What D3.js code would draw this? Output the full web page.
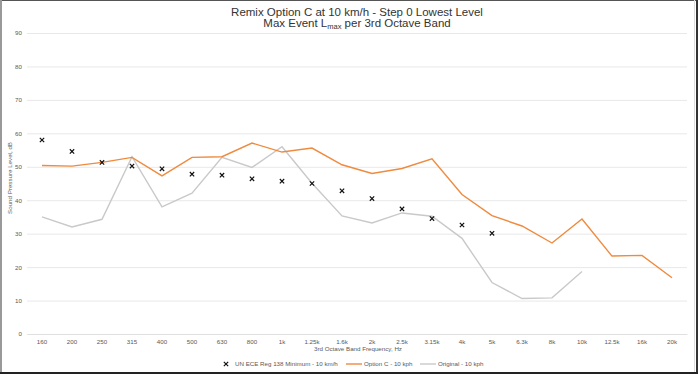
<!DOCTYPE html>
<html>
<head>
<meta charset="utf-8">
<script src="https://cdn.jsdelivr.net/npm/d3@7"></script>
<style>
  body { margin: 0; background: #fff; }
  svg { display: block; font-family: "Liberation Sans", Arial, sans-serif; }
</style>
</head>
<body>
<div id="chart"></div>
<script>
// 3rd octave bands
var bands = ["160", "200", "250", "315", "400", "500", "630", "800", "1k", "1.25k", "1.6k",
    "2k", "2.5k", "3.15k", "4k", "5k", "6.3k", "8k", "10k", "12.5k", "16k", "20k"];

// UN ECE Reg 138 minimum (markers only, up to 5k)
var uneceValues = [58.0, 54.6, 51.3, 50.2, 49.4, 47.8, 47.5, 46.4, 45.7, 45.0, 42.8,
    40.5, 37.4, 34.5, 32.6, 30.1, null, null, null, null, null, null];

var optionCValues = [50.4, 50.2, 51.3, 52.8, 47.3, 52.8, 53.0, 57.1, 54.4, 55.6, 50.6,
    48.0, 49.5, 52.4, 41.7, 35.4, 32.3, 27.2, 34.4, 23.3, 23.5, 16.8];

var originalValues = [35.0, 32.0, 34.3, 53.0, 38.0, 42.1, 52.8, 49.8, 56.0, 45.1, 35.3,
    33.2, 36.2, 35.2, 28.6, 15.4, 10.6, 10.8, 18.7, null, null, null];

var yTicks = [0, 10, 20, 30, 40, 50, 60, 70, 80, 90];

var W = 698, H = 374;
var margin = {top: 33, right: 11, bottom: 40, left: 27};
var width = W - margin.left - margin.right;
var height = H - margin.top - margin.bottom;
var small = 6.2;

var svg = d3.select("#chart").append("svg")
    .attr("width", W)
    .attr("height", H);

svg.append("rect").attr("width", W).attr("height", H).attr("fill", "#fff");

// frame around the picture
svg.append("line").attr("x1", 0).attr("x2", W).attr("y1", 0.5).attr("y2", 0.5)
    .attr("stroke", "#555").attr("stroke-width", 1);
svg.append("line").attr("x1", 1).attr("x2", 1).attr("y1", 0).attr("y2", H)
    .attr("stroke", "#999").attr("stroke-width", 2);
svg.append("line").attr("x1", 694.5).attr("x2", 694.5).attr("y1", 0).attr("y2", 372)
    .attr("stroke", "#ddd").attr("stroke-width", 1);
svg.append("line").attr("x1", 697).attr("x2", 697).attr("y1", 0).attr("y2", H)
    .attr("stroke", "#333").attr("stroke-width", 2);
svg.append("line").attr("x1", 0).attr("x2", W).attr("y1", 373).attr("y2", 373)
    .attr("stroke", "#222").attr("stroke-width", 2);

var g = svg.append("g")
    .attr("transform", "translate(" + margin.left + "," + margin.top + ")");

var x = d3.scaleBand().domain(bands).range([0, width]);
var y = d3.scaleLinear().domain([0, 90]).range([height, 0]);

// gridlines + y labels
var yAxis = d3.axisLeft(y).tickValues(yTicks).tickSize(-width).tickPadding(5);
g.append("g").call(yAxis)
    .call(function(a) {
        a.select(".domain").remove();
        a.selectAll("line").attr("stroke", "#e8e8e8").attr("stroke-width", 1);
        a.selectAll("text").attr("font-size", small).attr("fill", "#595959");
    });

// x axis labels
var xAxis = d3.axisBottom(x).tickSize(0).tickPadding(6);
g.append("g").attr("transform", "translate(0," + height + ")").call(xAxis)
    .call(function(a) {
        a.select(".domain").attr("stroke", "#e0e0e0");
        a.selectAll("text").attr("font-size", small).attr("fill", "#595959");
    });

var cx = function(i) { return x(bands[i]) + x.bandwidth() / 2; };

var line = d3.line()
    .defined(function(d) { return d != null; })
    .x(function(d, i) { return cx(i); })
    .y(function(d) { return y(d); });

g.append("path").datum(originalValues)
    .attr("d", line)
    .attr("fill", "none")
    .attr("stroke", "#c9c9c9")
    .attr("stroke-width", 1.4);

g.append("path").datum(optionCValues)
    .attr("d", line)
    .attr("fill", "none")
    .attr("stroke", "#ef8a3e")
    .attr("stroke-width", 1.4);

var cross = d3.symbol().type(d3.symbolX).size(14);
g.selectAll(".unece")
    .data(uneceValues.map(function(v, i) { return {v: v, i: i}; })
        .filter(function(d) { return d.v != null; }))
    .enter().append("path")
    .attr("class", "unece")
    .attr("d", cross)
    .attr("transform", function(d) { return "translate(" + cx(d.i) + "," + y(d.v) + ")"; })
    .attr("stroke", "#111")
    .attr("stroke-width", 1.2)
    .attr("fill", "none");

// titles
var titleX = margin.left + width / 2;
svg.append("text")
    .attr("x", titleX).attr("y", 16)
    .attr("text-anchor", "middle")
    .attr("font-size", 11.5)
    .attr("fill", "#333")
    .text("Remix Option C at 10 km/h - Step 0 Lowest Level");

var t2 = svg.append("text")
    .attr("x", titleX).attr("y", 27)
    .attr("text-anchor", "middle")
    .attr("font-size", 11.5)
    .attr("fill", "#333");
t2.append("tspan").text("Max Event L");
t2.append("tspan").attr("font-size", 7.5).attr("dy", 2).text("max");
t2.append("tspan").attr("dy", -2).text(" per 3rd Octave Band");

svg.append("text")
    .attr("transform", "translate(12,178) rotate(-90)")
    .attr("text-anchor", "middle")
    .attr("font-size", small)
    .attr("fill", "#595959")
    .text("Sound Pressure Level, dB");

svg.append("text")
    .attr("x", 358).attr("y", 351)
    .attr("text-anchor", "middle")
    .attr("font-size", small)
    .attr("fill", "#595959")
    .text("3rd Octave Band Frequency, Hz");

// legend
var legend = svg.append("g").attr("transform", "translate(0,364)");
legend.append("path")
    .attr("d", cross)
    .attr("transform", "translate(226,0)")
    .attr("stroke", "#111").attr("stroke-width", 1.2).attr("fill", "none");
legend.append("text").attr("x", 235).attr("y", 2.2)
    .attr("font-size", small).attr("fill", "#595959")
    .text("UN ECE Reg 138 Minimum - 10 km/h");

legend.append("line").attr("x1", 346).attr("x2", 362).attr("y1", 0).attr("y2", 0)
    .attr("stroke", "#ef8a3e").attr("stroke-width", 1.4);
legend.append("text").attr("x", 364).attr("y", 2.2)
    .attr("font-size", small).attr("fill", "#595959")
    .text("Option C - 10 kph");

legend.append("line").attr("x1", 420).attr("x2", 436).attr("y1", 0).attr("y2", 0)
    .attr("stroke", "#c9c9c9").attr("stroke-width", 1.4);
legend.append("text").attr("x", 438).attr("y", 2.2)
    .attr("font-size", small).attr("fill", "#595959")
    .text("Original - 10 kph");
</script>
</body>
</html>
